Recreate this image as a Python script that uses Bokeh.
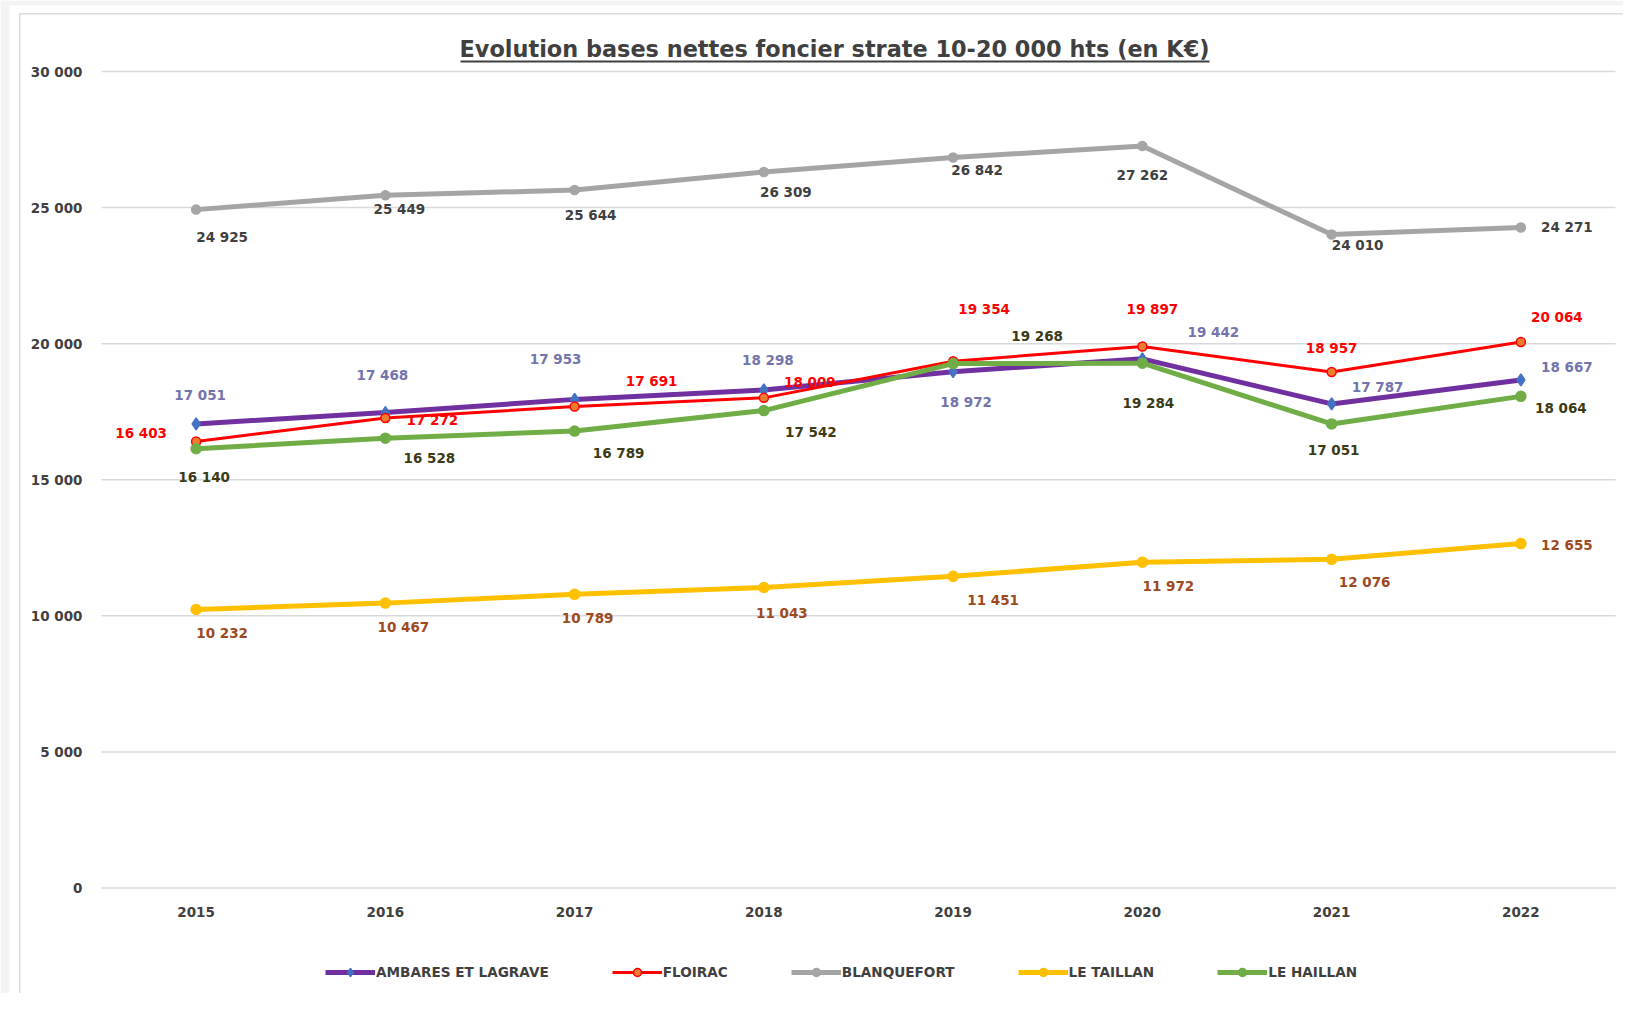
from bokeh.plotting import figure
from bokeh.models import (Range1d, FixedTicker, Label, BoxAnnotation, Legend,
                          LegendItem, ColumnDataSource)
from bokeh.core.properties import value
from bokeh.embed import file_html
from bokeh.resources import INLINE

# ---------------- data ----------------
years = [2015, 2016, 2017, 2018, 2019, 2020, 2021, 2022]
ambares = [17051, 17468, 17953, 18298, 18972, 19442, 17787, 18667]
floirac = [16403, 17272, 17691, 18009, 19354, 19897, 18957, 20064]
blanquefort = [24925, 25449, 25644, 26309, 26842, 27262, 24010, 24271]
le_taillan = [10232, 10467, 10789, 11043, 11451, 11972, 12076, 12655]
le_haillan = [16140, 16528, 16789, 17542, 19268, 19284, 17051, 18064]
series_names = ["AMBARES ET LAGRAVE", "FLOIRAC", "BLANQUEFORT", "LE TAILLAN", "LE HAILLAN"]
series_values = [ambares, floirac, blanquefort, le_taillan, le_haillan]
y_ticks = [0, 5000, 10000, 15000, 20000, 25000, 30000]
title_text = "Evolution bases nettes foncier strate 10-20 000 hts (en K€)"

# ---------------- styles ----------------
FONT = "DejaVu Sans"
styles = [
    dict(line="#7030A0", width=5, marker="diamond", fill="#4472C4", mline="#4472C4", size=12,
         label="#7474AC",
         dx=[4, -3, -19, 4, 13, 71, 46, 46], dy=[-29, -38, -40, -30, 30, -27, -17, -13]),
    dict(line="#FF0000", width=3, marker="circle", fill="#ED7D31", mline="#FF0000", size=9,
         label="#FF0000",
         dx=[-55, 47, 77, 46, 31, 10, 0, 36], dy=[-9, 2, -26, -16, -52, -37, -24, -25]),
    dict(line="#A5A5A5", width=5, marker="circle", fill="#A5A5A5", mline="#A5A5A5", size=9,
         label="#404040",
         dx=[26, 14, 16, 22, 24, 0, 26, 46], dy=[27, 14, 25, 20, 13, 29, 10, 0]),
    dict(line="#FFC000", width=5, marker="circle", fill="#FFC000", mline="#FFC000", size=10,
         label="#9E4A1E",
         dx=[26, 18, 13, 18, 40, 26, 33, 46], dy=[23, 24, 24, 26, 24, 24, 23, 1]),
    dict(line="#70AD47", width=5, marker="circle", fill="#70AD47", mline="#70AD47", size=10,
         label="#3B3B16",
         dx=[8, 44, 44, 47, 84, 6, 2, 40], dy=[28, 20, 22, 21, -28, 40, 26, 12]),
]

# ---------------- geometry (pixels) ----------------
W, H = 1623, 993
PLOT_L, PLOT_R = 101.0, 1615.0                 # category band area
ZERO_PX, TOP_PX = 887.5, 71.0                  # pixel rows of 0 and 30 000
PX_PER_YEAR = (PLOT_R - PLOT_L) / len(years)
PX_PER_UNIT = (ZERO_PX - TOP_PX) / 30000.0
X0 = years[0] - 0.5 - PLOT_L / PX_PER_YEAR
X1 = years[-1] + 0.5 + (W - PLOT_R) / PX_PER_YEAR
Y0 = -(H - ZERO_PX) / PX_PER_UNIT
Y1 = 30000 + TOP_PX / PX_PER_UNIT

p = figure(width=W, height=H, output_backend="svg", toolbar_location=None,
           x_range=Range1d(X0, X1), y_range=Range1d(Y0, Y1),
           min_border_left=0, min_border_right=0,
           min_border_top=0, min_border_bottom=0,
           background_fill_color="white", border_fill_color="white")
p.outline_line_color = None
p.xgrid.visible = False
p.ygrid.visible = False

# background bands / chart-area border
def screen_box(l, r, b, t, color):
    return BoxAnnotation(left=l, right=r, bottom=b, top=t,
                         left_units="screen", right_units="screen",
                         top_units="screen", bottom_units="screen",
                         fill_color=color, fill_alpha=1, line_color=None,
                         level="underlay")

p.add_layout(screen_box(0, W, H - 5, H, "#F4F4F4"))
p.add_layout(screen_box(0, 9, 0, H, "#F4F4F4"))
p.add_layout(screen_box(18.5, 20, 0, H - 12.5, "#DCDCDC"))
p.add_layout(screen_box(18.5, W, H - 14, H - 12.5, "#DCDCDC"))

# horizontal gridlines across the category area
grid_src = ColumnDataSource(dict(y=y_ticks,
                                 x0=[years[0] - 0.5] * len(y_ticks),
                                 x1=[years[-1] + 0.5] * len(y_ticks)))
p.segment(x0="x0", x1="x1", y0="y", y1="y", source=grid_src,
          line_color="#D9D9D9", line_width=1.5)

p.yaxis.ticker = FixedTicker(ticks=y_ticks)
p.yaxis.major_label_overrides = {t: f"{t:,}".replace(",", " ") for t in y_ticks}
p.yaxis.fixed_location = years[0] - 0.5
p.xaxis.ticker = FixedTicker(ticks=years)
p.xaxis.major_label_overrides = {y: str(y) for y in years}
p.xaxis.fixed_location = 0
for ax in (p.xaxis, p.yaxis):
    ax.axis_line_color = None
    ax.major_tick_line_color = None
    ax.minor_tick_line_color = None
    ax.major_tick_out = 0
    ax.major_tick_in = 0
    ax.minor_tick_out = 0
    ax.minor_tick_in = 0
    ax.major_label_text_font = FONT
    ax.major_label_text_font_style = "bold"
    ax.major_label_text_font_size = "13.5px"
    ax.major_label_text_color = "#404040"
p.yaxis.major_label_standoff = 19
p.xaxis.major_label_standoff = 19

items = []
label_sources = []
for name, vals, st in zip(series_names, series_values, styles):
    src = ColumnDataSource(dict(x=years, y=vals,
                                txt=[f"{v:,}".replace(",", " ") for v in vals],
                                dx=st["dx"], dy=st["dy"]))
    rl = p.line("x", "y", source=src, line_color=st["line"], line_width=st["width"])
    rs = p.scatter("x", "y", source=src, marker=st["marker"], size=st["size"],
                   fill_color=st["fill"], line_color=st["mline"], line_width=1.5)
    items.append(LegendItem(label=name, renderers=[rl, rs]))
    label_sources.append((src, st))

for src, st in label_sources:
    p.text("x", "y", text="txt", source=src, x_offset="dx", y_offset="dy",
           text_align="center", text_baseline="middle",
           text_font=value(FONT), text_font_style="bold", text_font_size="13.5px",
           text_color=st["label"])

legend = Legend(items=items, orientation="horizontal", location=(325, 11),
                glyph_width=50, glyph_height=20, label_standoff=1, spacing=63,
                padding=5, margin=0, border_line_color=None,
                background_fill_alpha=0,
                label_text_font=FONT, label_text_font_style="bold",
                label_text_font_size="13.6px", label_text_color="#404040")
p.add_layout(legend)

title = Label(x=834, y=945, x_units="screen", y_units="screen", text=title_text,
              text_align="center", text_baseline="alphabetic",
              text_font=FONT, text_font_style="bold", text_font_size="22.4px",
              text_color="#404040")
p.add_layout(title)
p.add_layout(BoxAnnotation(left=460, right=1209, bottom=931, top=933,
                           left_units="screen", right_units="screen",
                           top_units="screen", bottom_units="screen",
                           fill_color="#404040", fill_alpha=1, line_color=None))

open("out.html", "w").write(file_html(p, INLINE))
